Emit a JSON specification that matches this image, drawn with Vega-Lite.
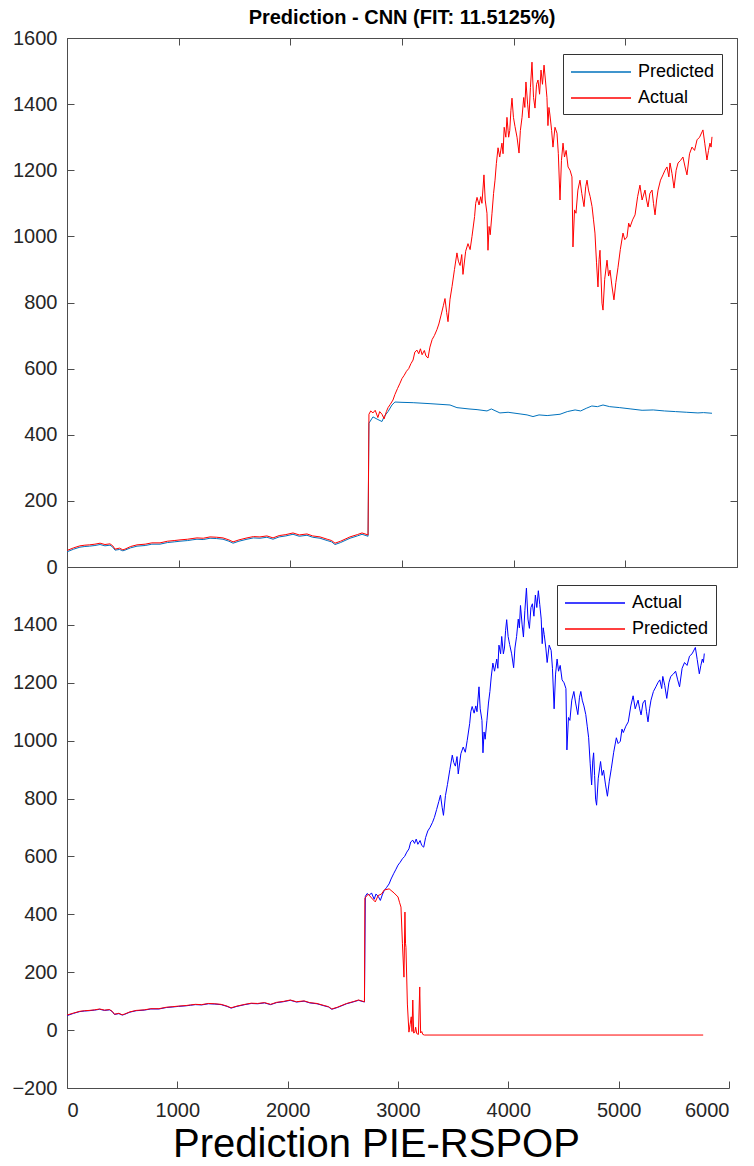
{
  "$schema": "https://vega.github.io/schema/vega-lite/v6.json",
  "background": "white",
  "padding": {"left": 5, "top": 8, "right": 5, "bottom": 0},
  "spacing": 0,
  "bounds": "flush",
  "config": {
    "view": {"stroke": null},
    "font": "Liberation Sans",
    "axis": {"grid": false, "domainColor": "#4d4d4d", "tickColor": "#4d4d4d", "labelColor": "#262626", "labelFont": "Liberation Sans", "labelFontSize": 20, "tickSize": -7, "labelPadding": 17, "title": null, "format": "d"},
    "legend": {"orient": "none", "strokeColor": "#333", "fillColor": "white", "padding": 7, "symbolType": "M-1,0L5,0", "symbolSize": 400, "symbolStrokeWidth": 1.3, "labelFont": "Liberation Sans", "labelFontSize": 18, "labelColor": "#000", "rowPadding": 6, "labelOffset": 46, "title": null}
  },
  "datasets": {
    "actual": [
      {"x":0,"y":50},{"x":60,"y":58},{"x":116,"y":64},{"x":160,"y":66},{"x":200,"y":67},{"x":250,"y":69},{"x":296,"y":72},{"x":340,"y":68},{"x":385,"y":70},{"x":410,"y":64},{"x":430,"y":54},{"x":470,"y":57},{"x":500,"y":52},{"x":519,"y":54},{"x":570,"y":62},{"x":627,"y":67},{"x":700,"y":69},{"x":760,"y":73},{"x":833,"y":73},{"x":900,"y":78},{"x":960,"y":80},{"x":1012,"y":82},{"x":1080,"y":84},{"x":1120,"y":86},{"x":1164,"y":88},{"x":1220,"y":87},{"x":1281,"y":91},{"x":1340,"y":90},{"x":1397,"y":88},{"x":1450,"y":82},{"x":1487,"y":76},{"x":1540,"y":82},{"x":1612,"y":88},{"x":1670,"y":92},{"x":1728,"y":91},{"x":1790,"y":94},{"x":1845,"y":88},{"x":1900,"y":95},{"x":1960,"y":98},{"x":2024,"y":103},{"x":2080,"y":97},{"x":2149,"y":100},{"x":2200,"y":94},{"x":2266,"y":91},{"x":2330,"y":84},{"x":2370,"y":80},{"x":2400,"y":72},{"x":2450,"y":78},{"x":2534,"y":91},{"x":2600,"y":98},{"x":2642,"y":103},{"x":2696,"y":97},
      {"x":2704,"y":462},{"x":2720,"y":472},{"x":2740,"y":466},{"x":2760,"y":474},{"x":2784,"y":452},{"x":2800,"y":470},{"x":2821,"y":462},{"x":2840,"y":448},{"x":2860,"y":470},{"x":2875,"y":482},{"x":2895,"y":492},{"x":2919,"y":505},{"x":2937,"y":522},{"x":2960,"y":540},{"x":2982,"y":556},{"x":3000,"y":570},{"x":3020,"y":580},{"x":3040,"y":592},{"x":3060,"y":600},{"x":3080,"y":615},{"x":3099,"y":626},{"x":3115,"y":650},{"x":3134,"y":656},{"x":3150,"y":645},{"x":3165,"y":660},{"x":3180,"y":642},{"x":3200,"y":655},{"x":3215,"y":638},{"x":3233,"y":632},{"x":3250,"y":665},{"x":3270,"y":688},{"x":3290,"y":700},{"x":3313,"y":718},{"x":3330,"y":735},{"x":3350,"y":762},{"x":3370,"y":790},{"x":3385,"y":812},{"x":3400,"y":770},{"x":3412,"y":742},{"x":3430,"y":810},{"x":3448,"y":848},{"x":3470,"y":900},{"x":3492,"y":950},{"x":3505,"y":925},{"x":3520,"y":912},{"x":3535,"y":945},{"x":3546,"y":885},{"x":3570,"y":955},{"x":3591,"y":978},{"x":3610,"y":960},{"x":3627,"y":1000},{"x":3650,"y":1060},{"x":3660,"y":1100},{"x":3672,"y":1118},{"x":3690,"y":1095},{"x":3705,"y":1120},{"x":3716,"y":1100},{"x":3734,"y":1186},{"x":3745,"y":1110},{"x":3761,"y":1070},{"x":3770,"y":958},{"x":3780,"y":1030},{"x":3790,"y":1005},{"x":3806,"y":1070},{"x":3820,"y":1130},{"x":3833,"y":1170},{"x":3845,"y":1220},{"x":3860,"y":1268},{"x":3875,"y":1240},{"x":3895,"y":1282},{"x":3905,"y":1250},{"x":3915,"y":1330},{"x":3930,"y":1300},{"x":3940,"y":1360},{"x":3955,"y":1300},{"x":3965,"y":1320},{"x":3975,"y":1380},{"x":3985,"y":1418},{"x":3998,"y":1360},{"x":4012,"y":1332},{"x":4030,"y":1300},{"x":4048,"y":1252},{"x":4060,"y":1320},{"x":4075,"y":1360},{"x":4090,"y":1420},{"x":4100,"y":1390},{"x":4110,"y":1467},{"x":4125,"y":1400},{"x":4137,"y":1358},{"x":4150,"y":1450},{"x":4164,"y":1527},{"x":4178,"y":1420},{"x":4191,"y":1388},{"x":4205,"y":1460},{"x":4218,"y":1473},{"x":4232,"y":1430},{"x":4245,"y":1503},{"x":4258,"y":1460},{"x":4272,"y":1518},{"x":4285,"y":1470},{"x":4298,"y":1420},{"x":4307,"y":1335},{"x":4316,"y":1390},{"x":4325,"y":1367},{"x":4340,"y":1320},{"x":4352,"y":1270},{"x":4370,"y":1330},{"x":4388,"y":1312},{"x":4400,"y":1250},{"x":4415,"y":1110},{"x":4428,"y":1230},{"x":4442,"y":1282},{"x":4455,"y":1240},{"x":4470,"y":1260},{"x":4487,"y":1210},{"x":4505,"y":1200},{"x":4522,"y":1180},{"x":4531,"y":968},{"x":4545,"y":1080},{"x":4558,"y":1070},{"x":4575,"y":1140},{"x":4594,"y":1170},{"x":4610,"y":1130},{"x":4630,"y":1090},{"x":4645,"y":1150},{"x":4657,"y":1170},{"x":4670,"y":1140},{"x":4685,"y":1120},{"x":4702,"y":1090},{"x":4715,"y":1050},{"x":4728,"y":1010},{"x":4742,"y":920},{"x":4755,"y":847},{"x":4765,"y":930},{"x":4773,"y":958},{"x":4782,"y":880},{"x":4791,"y":798},{"x":4800,"y":777},{"x":4815,"y":870},{"x":4836,"y":928},{"x":4850,"y":880},{"x":4863,"y":898},{"x":4880,"y":850},{"x":4898,"y":808},{"x":4915,"y":860},{"x":4934,"y":905},{"x":4955,"y":960},{"x":4979,"y":1010},{"x":4995,"y":990},{"x":5015,"y":998},{"x":5030,"y":1040},{"x":5042,"y":1028},{"x":5065,"y":1050},{"x":5087,"y":1065},{"x":5110,"y":1120},{"x":5131,"y":1155},{"x":5150,"y":1110},{"x":5176,"y":1140},{"x":5190,"y":1110},{"x":5203,"y":1089},{"x":5220,"y":1130},{"x":5239,"y":1140},{"x":5252,"y":1100},{"x":5266,"y":1065},{"x":5280,"y":1110},{"x":5293,"y":1140},{"x":5315,"y":1170},{"x":5337,"y":1186},{"x":5355,"y":1200},{"x":5373,"y":1210},{"x":5390,"y":1180},{"x":5400,"y":1222},{"x":5418,"y":1190},{"x":5436,"y":1146},{"x":5455,"y":1200},{"x":5472,"y":1222},{"x":5495,"y":1230},{"x":5516,"y":1240},{"x":5535,"y":1210},{"x":5552,"y":1186},{"x":5575,"y":1250},{"x":5597,"y":1270},{"x":5620,"y":1260},{"x":5642,"y":1292},{"x":5665,"y":1300},{"x":5695,"y":1322},{"x":5712,"y":1280},{"x":5731,"y":1231},{"x":5745,"y":1260},{"x":5758,"y":1282},{"x":5768,"y":1270},{"x":5776,"y":1301}
    ],
    "cnn": [
      {"x":0,"y":46},{"x":60,"y":54},{"x":116,"y":60},{"x":160,"y":62},{"x":200,"y":63},{"x":250,"y":65},{"x":296,"y":68},{"x":340,"y":64},{"x":385,"y":66},{"x":410,"y":60},{"x":430,"y":51},{"x":470,"y":53},{"x":500,"y":49},{"x":519,"y":51},{"x":570,"y":58},{"x":627,"y":63},{"x":700,"y":65},{"x":760,"y":69},{"x":833,"y":69},{"x":900,"y":74},{"x":960,"y":76},{"x":1012,"y":78},{"x":1080,"y":80},{"x":1120,"y":82},{"x":1164,"y":84},{"x":1220,"y":83},{"x":1281,"y":87},{"x":1340,"y":86},{"x":1397,"y":84},{"x":1450,"y":78},{"x":1487,"y":72},{"x":1540,"y":78},{"x":1612,"y":84},{"x":1670,"y":88},{"x":1728,"y":87},{"x":1790,"y":90},{"x":1845,"y":84},{"x":1900,"y":91},{"x":1960,"y":94},{"x":2024,"y":99},{"x":2080,"y":93},{"x":2149,"y":96},{"x":2200,"y":90},{"x":2266,"y":87},{"x":2330,"y":80},{"x":2370,"y":76},{"x":2400,"y":68},{"x":2450,"y":74},{"x":2534,"y":87},{"x":2600,"y":94},{"x":2642,"y":99},{"x":2696,"y":93},
      {"x":2704,"y":435},{"x":2740,"y":454},{"x":2784,"y":446},{"x":2821,"y":440},{"x":2840,"y":455},{"x":2875,"y":470},{"x":2910,"y":490},{"x":2937,"y":499},{"x":3000,"y":498},{"x":3100,"y":497},{"x":3251,"y":494},{"x":3430,"y":490},{"x":3492,"y":482},{"x":3600,"y":478},{"x":3672,"y":476},{"x":3761,"y":472},{"x":3800,"y":478},{"x":3877,"y":466},{"x":3950,"y":468},{"x":4057,"y":463},{"x":4120,"y":460},{"x":4173,"y":455},{"x":4227,"y":460},{"x":4300,"y":458},{"x":4415,"y":462},{"x":4480,"y":470},{"x":4550,"y":475},{"x":4600,"y":472},{"x":4650,"y":480},{"x":4700,"y":487},{"x":4750,"y":485},{"x":4800,"y":490},{"x":4860,"y":485},{"x":4950,"y":482},{"x":5050,"y":478},{"x":5150,"y":474},{"x":5250,"y":475},{"x":5350,"y":472},{"x":5450,"y":470},{"x":5550,"y":468},{"x":5650,"y":466},{"x":5700,"y":467},{"x":5776,"y":465}
    ],
    "pie": [
      {"x":0,"y":52},{"x":60,"y":59},{"x":116,"y":65},{"x":160,"y":67},{"x":200,"y":68},{"x":250,"y":70},{"x":296,"y":73},{"x":340,"y":69},{"x":385,"y":71},{"x":410,"y":65},{"x":430,"y":55},{"x":470,"y":58},{"x":500,"y":53},{"x":519,"y":55},{"x":570,"y":63},{"x":627,"y":68},{"x":700,"y":70},{"x":760,"y":74},{"x":833,"y":74},{"x":900,"y":79},{"x":960,"y":81},{"x":1012,"y":83},{"x":1080,"y":85},{"x":1120,"y":87},{"x":1164,"y":89},{"x":1220,"y":88},{"x":1281,"y":92},{"x":1340,"y":91},{"x":1397,"y":89},{"x":1450,"y":83},{"x":1487,"y":77},{"x":1540,"y":83},{"x":1612,"y":89},{"x":1670,"y":93},{"x":1728,"y":92},{"x":1790,"y":95},{"x":1845,"y":89},{"x":1900,"y":96},{"x":1960,"y":99},{"x":2024,"y":104},{"x":2080,"y":98},{"x":2149,"y":101},{"x":2200,"y":95},{"x":2266,"y":92},{"x":2330,"y":85},{"x":2370,"y":81},{"x":2400,"y":73},{"x":2450,"y":79},{"x":2534,"y":92},{"x":2600,"y":99},{"x":2642,"y":104},{"x":2696,"y":98},
      {"x":2700,"y":456},{"x":2731,"y":470},{"x":2761,"y":456},{"x":2794,"y":443},{"x":2820,"y":465},{"x":2850,"y":470},{"x":2875,"y":484},{"x":2920,"y":488},{"x":2964,"y":474},{"x":3000,"y":460},{"x":3015,"y":440},{"x":3027,"y":425},{"x":3040,"y":300},{"x":3054,"y":183},{"x":3063,"y":408},{"x":3068,"y":300},{"x":3072,"y":286},{"x":3085,"y":90},{"x":3099,"y":-7},{"x":3110,"y":20},{"x":3120,"y":46},{"x":3127,"y":-5},{"x":3134,"y":104},{"x":3142,"y":-10},{"x":3152,"y":-8},{"x":3160,"y":10},{"x":3170,"y":-12},{"x":3185,"y":-15},{"x":3197,"y":149},{"x":3205,"y":-10},{"x":3215,"y":-5},{"x":3225,"y":-15},{"x":3240,"y":-17},{"x":5766,"y":-17}
    ]
  },
  "vconcat": [
    {
      "width": 670,
      "height": 529,
      "title": {"text": "Prediction - CNN (FIT: 11.5125%)", "fontSize": 20, "fontWeight": "bold", "font": "Liberation Sans", "color": "#000", "offset": 0, "anchor": "middle"},
      "layer": [
        {
          "data": {"name": "cnn"},
          "mark": {"type": "line", "strokeWidth": 1},
          "encoding": {
            "x": {"field": "x", "type": "quantitative", "scale": {"domain": [0, 6000], "nice": false}, "axis": {"orient": "bottom", "values": [0, 1000, 2000, 3000, 4000, 5000, 6000], "labels": false, "labelPadding": 0, "minExtent": 0, "maxExtent": 0}},
            "y": {"field": "y", "type": "quantitative", "scale": {"domain": [0, 1600], "nice": false}, "axis": {"orient": "left", "values": [0, 200, 400, 600, 800, 1000, 1200, 1400, 1600], "minExtent": 62, "maxExtent": 62}},
            "color": {"datum": "Predicted", "type": "nominal", "scale": {"domain": ["Predicted", "Actual"], "range": ["#0072BD", "#FF0000"]}, "legend": {"legendX": 496, "legendY": 16}}
          }
        },
        {
          "data": {"name": "actual"},
          "mark": {"type": "line", "strokeWidth": 1},
          "encoding": {
            "x": {"field": "x", "type": "quantitative", "axis": {"orient": "top", "values": [0, 1000, 2000, 3000, 4000, 5000, 6000], "labels": false, "labelPadding": 0, "minExtent": 0, "maxExtent": 0}},
            "y": {"field": "y", "type": "quantitative", "axis": {"orient": "right", "values": [0, 200, 400, 600, 800, 1000, 1200, 1400, 1600], "labels": false, "labelPadding": 0}},
            "color": {"datum": "Actual", "type": "nominal"}
          }
        }
      ],
      "resolve": {"axis": {"x": "independent", "y": "independent"}}
    },
    {
      "width": 662,
      "height": 521,
      "layer": [
        {
          "data": {"name": "actual"},
          "mark": {"type": "line", "strokeWidth": 1},
          "encoding": {
            "x": {"field": "x", "type": "quantitative", "scale": {"domain": [0, 6000], "nice": false}, "axis": {"orient": "bottom", "values": [0, 1000, 2000, 3000, 4000, 5000, 6000], "labelPadding": 19, "title": "Prediction PIE-RSPOP", "titleFont": "Liberation Sans", "titleFontSize": 40, "titleFontWeight": "normal", "titleColor": "#000", "titlePadding": 4, "titleX": 309, "titleAlign": "center"}},
            "y": {"field": "y", "type": "quantitative", "scale": {"domain": [-200, 1600], "nice": false}, "axis": {"orient": "left", "values": [-200, 0, 200, 400, 600, 800, 1000, 1200, 1400], "minExtent": 62, "maxExtent": 62}},
            "color": {"datum": "Actual", "type": "nominal", "scale": {"domain": ["Actual", "Predicted"], "range": ["#0000FF", "#FF0000"]}, "legend": {"legendX": 490, "legendY": 18}}
          }
        },
        {
          "data": {"name": "pie"},
          "mark": {"type": "line", "strokeWidth": 1},
          "encoding": {
            "x": {"field": "x", "type": "quantitative"},
            "y": {"field": "y", "type": "quantitative"},
            "color": {"datum": "Predicted", "type": "nominal"}
          }
        }
      ]
    }
  ],
  "resolve": {"scale": {"color": "independent"}}
}
